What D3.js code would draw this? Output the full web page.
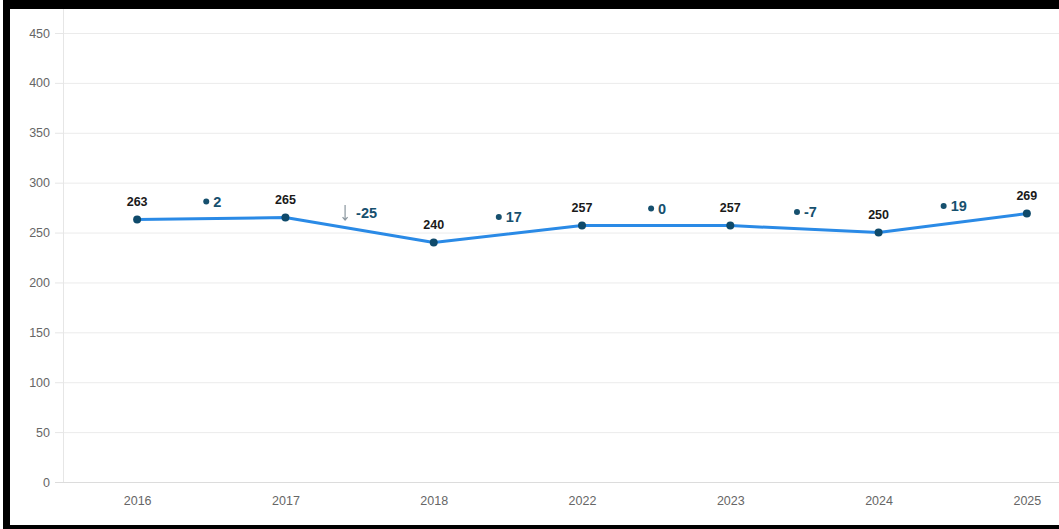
<!DOCTYPE html>
<html>
<head>
<meta charset="utf-8">
<script src="https://cdn.jsdelivr.net/npm/d3@7"></script>
<style>
  html, body { margin: 0; padding: 0; background: #fff; }
  svg { display: block; font-family: "Liberation Sans", Arial, sans-serif; }
</style>
</head>
<body>
<svg id="chart" width="1059" height="529"></svg>
<script>
const categories = ["2016", "2017", "2018", "2022", "2023", "2024", "2025"];
const values = [263, 265, 240, 257, 257, 250, 269];
const deltas = [2, -25, 17, 0, -7, 19];
const deltaSymbols = ["dot", "arrow", "dot", "dot", "dot", "dot"];
const yTicks = [0, 50, 100, 150, 200, 250, 300, 350, 400, 450];

const svg = d3.select("#chart");
const W = 1059, H = 529;

const x = d3.scalePoint().domain(categories).range([63, 1101]).padding(0.5);
const y = d3.scaleLinear().domain([0, 450]).range([482, 33]);

const plot = svg.append("g");

// gridlines + y axis
const yAxis = d3.axisLeft(y).tickValues(yTicks).tickSize(8).tickPadding(5);
const gy = plot.append("g").attr("transform", "translate(63,0)").call(yAxis);
gy.select(".domain").remove();
gy.selectAll(".tick line").attr("stroke", "#e6e6e6");
gy.selectAll(".tick text").attr("fill", "#666").attr("font-size", 12.5)
  .attr("font-family", "'Liberation Sans', Arial, sans-serif");
gy.selectAll(".tick").append("line")
  .attr("x1", 0).attr("x2", W).attr("stroke", "#ebebeb").attr("stroke-width", 1);

// left axis line
plot.append("line").attr("x1", 63.5).attr("x2", 63.5).attr("y1", 9).attr("y2", 482)
  .attr("stroke", "#e6e6e6");
// bottom axis line
plot.append("line").attr("x1", 55).attr("x2", W).attr("y1", 482.5).attr("y2", 482.5)
  .attr("stroke", "#dcdcdc");

// x axis labels
const xAxis = d3.axisBottom(x).tickSize(0).tickPadding(14);
const gx = plot.append("g").attr("transform", "translate(0,482)").call(xAxis);
gx.select(".domain").remove();
gx.selectAll(".tick text").attr("fill", "#666").attr("font-size", 12.5)
  .attr("font-family", "'Liberation Sans', Arial, sans-serif");

// line
const line = d3.line().x((d, i) => x(categories[i])).y(d => y(d)).curve(d3.curveLinear);
plot.append("path").datum(values).attr("d", line)
  .attr("fill", "none").attr("stroke", "#2a8ae6").attr("stroke-width", 3)
  .attr("stroke-linejoin", "round");

// points
plot.selectAll("circle.pt").data(values).join("circle")
  .attr("class", "pt")
  .attr("cx", (d, i) => x(categories[i])).attr("cy", d => y(d)).attr("r", 4)
  .attr("fill", "#0f4a6b");

// value labels
plot.selectAll("text.val").data(values).join("text")
  .attr("class", "val")
  .attr("x", (d, i) => x(categories[i])).attr("y", d => y(d) - 14)
  .attr("text-anchor", "middle").attr("font-size", 12.5).attr("font-weight", "bold")
  .attr("fill", "#1a1a1a").text(d => d);

// delta labels
deltas.forEach((d, i) => {
  const mx = (x(categories[i]) + x(categories[i + 1])) / 2;
  const cy = y((values[i] + values[i + 1]) / 2) - 17;
  const g = plot.append("g").attr("class", "delta");
  const t = g.append("text")
    .attr("y", cy + 5)
    .attr("font-size", 14.5).attr("font-weight", "bold")
    .attr("fill", "#16506e").text(d);
  const tw = t.node().getComputedTextLength();
  if (deltaSymbols[i] === "dot") {
    const total = 6 + 4 + tw;
    const sx = mx - total / 2 + 1;
    g.append("circle").attr("cx", sx + 3).attr("cy", cy).attr("r", 3).attr("fill", "#16506e");
    t.attr("x", sx + 10);
  } else {
    const total = 6 + 8 + tw;
    const sx = mx - total / 2;
    const ax = sx + 3;
    g.append("path")
      .attr("d", `M${ax},${cy - 8} L${ax},${cy + 7} M${ax - 2.5},${cy + 4} L${ax},${cy + 7} L${ax + 2.5},${cy + 4}`)
      .attr("fill", "none").attr("stroke", "#8a969e").attr("stroke-width", 1.2);
    t.attr("x", sx + 14);
  }
});

// black frame
svg.append("rect").attr("x", 3).attr("y", 0).attr("width", W - 3).attr("height", 9).attr("fill", "#000");
svg.append("rect").attr("x", 3).attr("y", 0).attr("width", 7).attr("height", H).attr("fill", "#000");
svg.append("rect").attr("x", 3).attr("y", 525).attr("width", W - 3).attr("height", 4).attr("fill", "#000");
</script>
</body>
</html>
